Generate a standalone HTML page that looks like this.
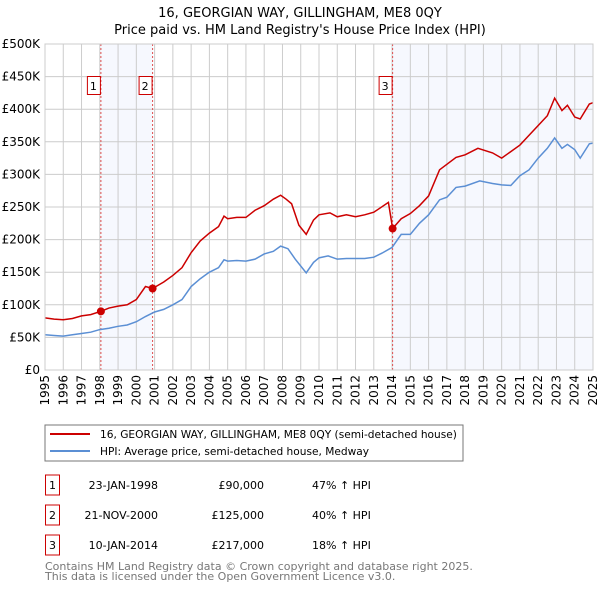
<!DOCTYPE html>
<html><head><meta charset="utf-8"><style>
body{margin:0;background:#fff;font-family:"Liberation Sans","DejaVu Sans",sans-serif;}
</style></head><body>
<svg width="600" height="590" viewBox="0 0 600 590" xmlns="http://www.w3.org/2000/svg" font-family="DejaVu Sans, Liberation Sans, sans-serif">
<text x="300" y="17" text-anchor="middle" font-size="13">16, GEORGIAN WAY, GILLINGHAM, ME8 0QY</text>
<text x="300" y="34" text-anchor="middle" font-size="13">Price paid vs. HM Land Registry's House Price Index (HPI)</text>
<g id="plot"></g>
<rect x="45" y="425" width="418" height="36" fill="#fff" stroke="#777"/>
<line x1="50" y1="434" x2="90" y2="434" stroke="#cc0000" stroke-width="2"/>
<text x="100" y="438" font-size="10.6">16, GEORGIAN WAY, GILLINGHAM, ME8 0QY (semi-detached house)</text>
<line x1="50" y1="451" x2="90" y2="451" stroke="#5b8fd4" stroke-width="2"/>
<text x="100" y="455" font-size="10.6">HPI: Average price, semi-detached house, Medway</text>
<g font-size="11">
<rect x="45.5" y="475" width="14" height="20" fill="#fff" stroke="#cc0000"/><text x="52.5" y="489" text-anchor="middle">1</text>
<text x="158" y="489" text-anchor="end">23-JAN-1998</text><text x="264" y="489" text-anchor="end">£90,000</text><text x="312" y="489">47% ↑ HPI</text>
<rect x="45.5" y="505" width="14" height="20" fill="#fff" stroke="#cc0000"/><text x="52.5" y="519" text-anchor="middle">2</text>
<text x="158" y="519" text-anchor="end">21-NOV-2000</text><text x="264" y="519" text-anchor="end">£125,000</text><text x="312" y="519">40% ↑ HPI</text>
<rect x="45.5" y="535" width="14" height="20" fill="#fff" stroke="#cc0000"/><text x="52.5" y="549" text-anchor="middle">3</text>
<text x="158" y="549" text-anchor="end">10-JAN-2014</text><text x="264" y="549" text-anchor="end">£217,000</text><text x="312" y="549">18% ↑ HPI</text>
</g>
<text x="45" y="570" font-size="11" fill="#777">Contains HM Land Registry data © Crown copyright and database right 2025.</text>
<text x="45" y="580" font-size="11" fill="#777">This data is licensed under the Open Government Licence v3.0.</text>
</svg>
<script>
const yTicks=[0,50000,100000,150000,200000,250000,300000,350000,400000,450000,500000];
const yTickLabels=["£0","£50K","£100K","£150K","£200K","£250K","£300K","£350K","£400K","£450K","£500K"];
const xYears=[1995,1996,1997,1998,1999,2000,2001,2002,2003,2004,2005,2006,2007,2008,2009,2010,2011,2012,2013,2014,2015,2016,2017,2018,2019,2020,2021,2022,2023,2024,2025];
const hpiT=[1995,1995.5,1996,1996.5,1997,1997.5,1998,1998.5,1999,1999.5,2000,2000.5,2001,2001.5,2002,2002.5,2003,2003.5,2004,2004.5,2004.8,2005,2005.5,2006,2006.5,2007,2007.5,2007.9,2008.3,2008.7,2009.3,2009.7,2010,2010.5,2011,2011.5,2012,2012.5,2013,2013.5,2014,2014.5,2015,2015.5,2016,2016.6,2017,2017.5,2018,2018.8,2019.5,2020,2020.5,2021,2021.5,2022,2022.5,2022.9,2023.3,2023.6,2024,2024.3,2024.8,2025];
const hpiV=[54000,53000,52000,54000,56000,58000,62000,64000,67000,69000,74000,82000,89000,93000,100000,108000,128000,140000,150000,157000,169000,167000,168000,167000,170000,178000,182000,190000,186000,170000,149000,165000,172000,175000,170000,171000,171000,171000,173000,180000,188000,208000,208000,225000,238000,261000,265000,280000,282000,290000,286000,284000,283000,298000,307000,325000,340000,356000,340000,346000,338000,325000,347000,348000];
const priceT=[1995,1995.5,1996,1996.5,1997,1997.5,1998.06,1998.5,1999,1999.5,2000,2000.5,2000.89,2001.5,2002,2002.5,2003,2003.5,2004,2004.5,2004.8,2005,2005.5,2006,2006.5,2007,2007.5,2007.9,2008.2,2008.5,2008.9,2009.3,2009.7,2010,2010.6,2011,2011.5,2012,2012.5,2013,2013.8,2014.03,2014.5,2015,2015.5,2016,2016.6,2017.5,2018,2018.7,2019.5,2020,2020.5,2021,2021.5,2022,2022.5,2022.9,2023.3,2023.6,2024,2024.3,2024.8,2025];
const priceV=[80000,78000,77000,79000,83000,85000,90000,95000,98000,100000,108000,128000,125000,135000,145000,157000,180000,198000,210000,220000,236000,232000,234000,234000,245000,252000,262000,268000,262000,255000,222000,208000,230000,238000,241000,235000,238000,235000,238000,242000,257000,217000,232000,240000,252000,267000,307000,326000,330000,340000,333000,325000,335000,345000,360000,375000,390000,417000,398000,406000,388000,385000,408000,410000];
const saleT=[1998.06,2000.89,2014.03];
const saleV=[90000,125000,217000];
const saleLabels=["1","2","3"];

const X0=45,X1=593,Y0=370,Y1=44;
const xs=t=>X0+(t-1995)/(2025-1995)*(X1-X0);
const ys=v=>Y0-v/500000*(Y0-Y1);
const NS="http://www.w3.org/2000/svg";
const g=document.getElementById('plot');
function mk(tag,attrs,parent){const e=document.createElementNS(NS,tag);for(const k in attrs)e.setAttribute(k,attrs[k]);(parent||g).appendChild(e);return e;}
let r=mk('rect',{x:xs(saleT[0]),y:Y1,width:xs(saleT[1])-xs(saleT[0]),height:Y0-Y1,fill:'#eef3fd',opacity:0.55});


r=mk('rect',{x:xs(saleT[2]),y:Y1,width:X1-xs(saleT[2]),height:Y0-Y1,fill:'#eef3fd',opacity:0.55});


yTicks.forEach((v,i)=>{
 const l=mk('line',{x1:X0,x2:X1,y1:ys(v),y2:ys(v),stroke:'#cccccc','stroke-width':1});
 
 
 const t=mk('text',{x:40,y:ys(v)+4,'text-anchor':'end','font-size':12});
 t.textContent=yTickLabels[i];
 
 
});
xYears.forEach(yr=>{
 const l=mk('line',{x1:xs(yr),x2:xs(yr),y1:Y1,y2:Y0,stroke:'#cccccc','stroke-width':1});
 
 
 const t=mk('text',{x:0,y:0,'text-anchor':'end','font-size':12,transform:`translate(${xs(yr)+4},375) rotate(-90)`});
 t.textContent=yr;
 
 
});
saleT.forEach((t,i)=>{
 const l=mk('line',{x1:xs(t),x2:xs(t),y1:Y1,y2:Y0,stroke:'#e05050','stroke-width':1,'stroke-dasharray':'2,2'});
 
 
 const b=mk('rect',{x:xs(t)-14+0.5,y:76.5,width:13,height:18,fill:'#fff',stroke:'#cc0000'});
 
 
 const tx=mk('text',{x:xs(t)-7.5,y:90,'text-anchor':'middle','font-size':11});
 tx.textContent=saleLabels[i];
 
 
});
const hp=mk('polyline',{points:hpiT.map((t,i)=>xs(t)+','+ys(hpiV[i])).join(' '),fill:'none',stroke:'#5b8fd4','stroke-width':1.5});


const pp=mk('polyline',{points:priceT.map((t,i)=>xs(t)+','+ys(priceV[i])).join(' '),fill:'none',stroke:'#cc0000','stroke-width':1.5});


saleT.forEach((t,i)=>{
 const c=mk('circle',{cx:xs(t),cy:ys(saleV[i]),r:4,fill:'#cc0000'});
 
 
});
const f=mk('rect',{x:X0,y:Y1,width:X1-X0,height:Y0-Y1,fill:'none',stroke:'#cccccc'});


</script>
</body></html>
